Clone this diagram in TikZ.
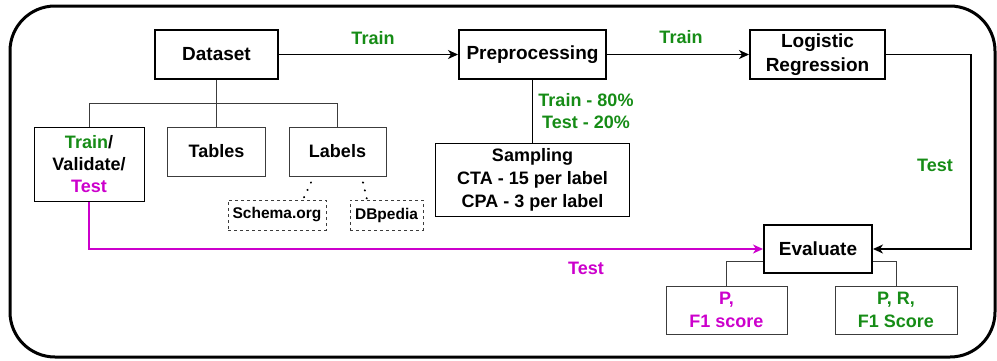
\documentclass[tikz,border=0pt]{standalone}
\usepackage{fontspec}
\setmainfont{Liberation Sans}
\usetikzlibrary{arrows.meta}
\definecolor{traingreen}{RGB}{22,140,22}
\definecolor{testpink}{RGB}{204,0,204}
\definecolor{edgegray}{RGB}{60,60,60}

\begin{document}
\begin{tikzpicture}[x=1pt, y=-1pt, line join=miter,
    main/.style = {draw, line width=2pt, inner sep=0pt, align=center, font=\fontsize{19}{24}\selectfont\bfseries},
    sub/.style = {draw=edgegray, line width=1pt, inner sep=0pt, align=center, font=\fontsize{18}{22}\selectfont\bfseries},
    src/.style = {draw=edgegray, line width=1pt, dashed, dash pattern=on 3pt off 3pt, inner sep=0pt, align=center, font=\fontsize{15.5}{18}\selectfont\bfseries},
    lbl/.style = {inner sep=0pt, align=center, font=\fontsize{18}{22}\selectfont\bfseries},
    tree/.style = {draw=edgegray, line width=1pt},
    dots/.style = {line width=2.2pt, line cap=round, dash pattern=on 0.1pt off 8pt},
    flow/.style = {line width=1.5pt, -{Stealth[length=10pt, width=9pt, inset=3pt]}}]
    \useasboundingbox (0,0) rectangle (997,360);
    \draw[line width=3pt, rounded corners=45pt] (10,6) rectangle (995,357);

    \node[main, minimum width=123pt, minimum height=49pt] (dataset) at (216.5,54.5) {Dataset};
    \node[main, minimum width=147pt, minimum height=49pt] (prep) at (532.5,54.5) {Preprocessing};
    \node[main, minimum width=135pt, minimum height=49pt] (logreg) at (817.5,54.5) {Logistic\\Regression};
    \node[main, minimum width=108pt, minimum height=48pt] (evaluate) at (818,249) {Evaluate};

    \node[sub, draw=black, minimum width=110pt, minimum height=74pt] (split) at (89,164)
        {\textcolor{traingreen}{Train}/\\Validate/\\\textcolor{testpink}{Test}};
    \node[sub, minimum width=98pt, minimum height=49pt] (tables) at (216.5,151.5) {Tables};
    \node[sub, minimum width=97pt, minimum height=49pt] (labels) at (337.5,151.5) {Labels};
    \node[src, minimum width=98pt, minimum height=30pt] (schema) at (277,215) {Schema.org};
    \node[src, minimum width=73pt, minimum height=30pt] (dbpedia) at (386.5,215) {DBpedia};
    \node[sub, draw=black, minimum width=194pt, minimum height=73pt, font=\fontsize{18}{23}\selectfont\bfseries] (sampling) at (532.5,179.5)
        {Sampling\\CTA - 15 per label\\CPA - 3 per label};
    \node[sub, minimum width=121pt, minimum height=48pt, text=testpink, font=\fontsize{18}{23}\selectfont\bfseries] (pscore) at (726.5,310) {P,\\F1 score};
    \node[sub, minimum width=122pt, minimum height=48pt, text=traingreen, font=\fontsize{18}{23}\selectfont\bfseries] (prscore) at (896,310) {P, R,\\F1 Score};

    % edge labels
    \node[lbl, text=traingreen] (train1) at (373,38) {Train};
    \node[lbl, text=traingreen] (train2) at (681,37) {Train};
    \node[lbl, text=traingreen] (ratio) at (586,111) {Train - 80\%\\Test - 20\%};
    \node[lbl, text=traingreen] (test1) at (935,165) {Test};
    \node[lbl, text=testpink] (test2) at (586,268) {Test};

    % main flow
    \draw[flow] (dataset) -- (prep);
    \draw[flow] (prep) -- (logreg);
    \draw[flow] (logreg.east) -- ++(85,0) |- (evaluate.east);
    \draw[flow, testpink] (split.south) |- (evaluate.west);
    \draw[line width=1pt] (prep.south) -- (sampling.north);

    % dataset tree
    \draw[tree] (split.north) -- (split.north |- 0,103) -| (labels.north);
    \draw[tree] (dataset.south) -- (tables.north);
    \draw[dots] ([xshift=-26.5pt]labels.south) ++(0,6) -- ([xshift=26pt]schema.north);
    \draw[dots] ([xshift=25.5pt]labels.south) ++(0,6) -- ([xshift=-19.5pt]dbpedia.north);

    % scores
    \draw[tree] ([yshift=-12pt]evaluate.west) -| (pscore.north);
    \draw[tree] ([yshift=-12pt]evaluate.east) -| (prscore.north);
\end{tikzpicture}
\end{document}
